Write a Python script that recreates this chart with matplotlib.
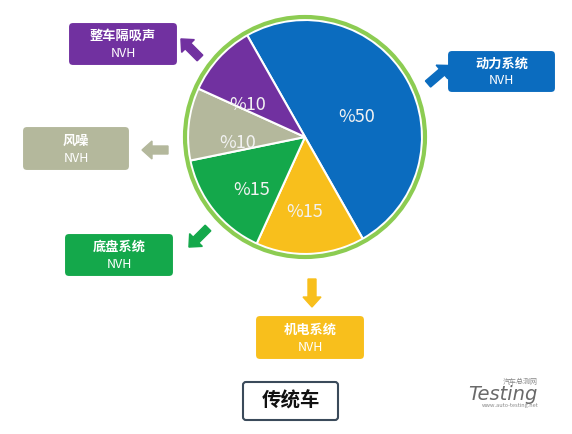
import matplotlib.pyplot as plt
from matplotlib.patches import FancyBboxPatch, FancyArrow, Circle

plt.rcParams['font.family'] = ['Noto Sans CJK SC', 'DejaVu Sans']

shares = [50, 15, 15, 10, 10]
pct_labels = ['%50', '%15', '%15', '%10', '%10']
colors = ['#0b6cbf', '#f8bf1c', '#14a84b', '#b4b89c', '#7131a0']
names = ['动力系统', '机电系统', '底盘系统', '风噪', '整车隔吸声']
# box (x0, y0, w, h) in pixels, arrow (x, y, dx, dy)
boxes = [(447, 50, 109, 43), (255, 315, 110, 45), (64, 233, 110, 44), (22, 126, 108, 45), (68, 22, 110, 44)]
arrows = [(428, 84, 14, -12), (312, 279, 0, 18), (208, 228, -12, 12), (168, 150, -16, 0), (200, 58, -12, -12)]
label_pos = [(357, 117), (305, 212), (252, 190), (238, 143), (248, 105)]

fig = plt.figure(figsize=(5.72, 4.34), dpi=100)
bg = fig.add_axes([0, 0, 1, 1])
bg.set_xlim(0, 572)
bg.set_ylim(434, 0)
bg.axis('off')

cx, cy, r = 305, 137, 125
pax = fig.add_axes([(cx - r) / 572, (434 - cy - r) / 434, 2 * r / 572, 2 * r / 434])
pax.pie(shares, colors=colors, startangle=119.6, counterclock=False, radius=117 / r,
        wedgeprops=dict(edgecolor='white', linewidth=1.5))
pax.add_patch(Circle((0, 0), 120 / r, fill=False, edgecolor='#8ccc52', linewidth=3))
pax.set_xlim(-1, 1)
pax.set_ylim(-1, 1)
pax.axis('off')

for (x, y), t in zip(label_pos, pct_labels):
    pax.text(x, y, t, ha='center', va='center', fontsize=13, color='#f2f2f2',
             transform=bg.transData, zorder=5)

for (x0, y0, w, h), (ax_, ay, dx, dy), c, n in zip(boxes, arrows, colors, names):
    bg.add_patch(FancyBboxPatch((x0, y0), w, h, boxstyle='round,pad=0,rounding_size=5',
                                facecolor=c, edgecolor='white', linewidth=1.5))
    bg.text(x0 + w / 2, y0 + h * 0.32, n, ha='center', va='center', fontsize=9.5,
            color='white', fontweight='bold')
    bg.text(x0 + w / 2, y0 + h * 0.72, 'NVH', ha='center', va='center', fontsize=9, color='white')
    bg.add_patch(FancyArrow(ax_, ay, dx, dy, width=8, head_width=18, head_length=10,
                            length_includes_head=False, color=c))

bg.add_patch(FancyBboxPatch((243, 382), 95, 38, boxstyle='round,pad=0,rounding_size=3',
                            facecolor='white', edgecolor='#3a4a5a', linewidth=1.5))
bg.text(290.5, 401, '传统车', ha='center', va='center', fontsize=14, fontweight='bold', color='#111111')

bg.text(538, 382, '汽车总测网', ha='right', va='center', fontsize=5, color='#888888')
bg.text(503, 394, 'Testing', ha='center', va='center', fontsize=14, style='italic',
        color='#6a6a6a', family='DejaVu Sans')
bg.text(510, 406, 'www.auto-testing.net', ha='center', va='center', fontsize=4, color='#888888')

fig.savefig('out.png', dpi=100)
